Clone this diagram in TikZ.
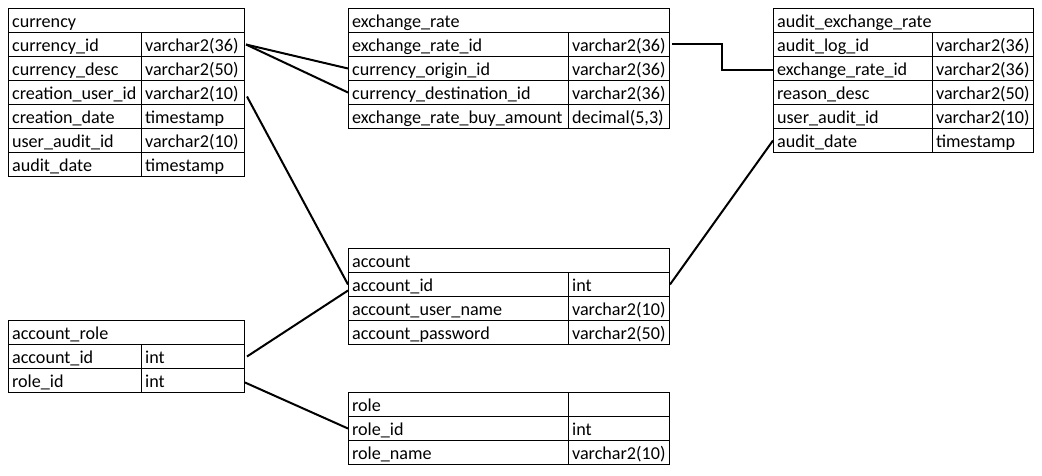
\documentclass[tikz,border=0pt]{standalone}
\usepackage{fontspec}
\setmainfont{Carlito}
\tikzset{
  cellst/.style={draw, line width=0.75pt, anchor=north west, minimum height=18pt,
    inner xsep=2.7pt, inner ysep=0pt, align=left, text height=12.5pt, text depth=2pt,
    font=\fontsize{13.6}{15}\selectfont},
  link/.style={line width=1.5pt, line join=miter}
}
\newcommand\cellbox[5]{\node[cellst, text width=#4*0.75pt-5.4pt] (#1) at (#2,#3) {#5};}
\begin{document}
\begin{tikzpicture}[x=0.75pt, y=-0.75pt]
\fill[white] (0,0) rectangle (1042,475);
\useasboundingbox (0,0) rectangle (1042,475);
% currency
\cellbox{cur0}{8}{8}{236}{currency}
\cellbox{cur1a}{8}{32}{133}{currency\_id}       \cellbox{cur1b}{141}{32}{103}{varchar2(36)}
\cellbox{cur2a}{8}{56}{133}{currency\_desc}     \cellbox{cur2b}{141}{56}{103}{varchar2(50)}
\cellbox{cur3a}{8}{80}{133}{creation\_user\_id} \cellbox{cur3b}{141}{80}{103}{varchar2(10)}
\cellbox{cur4a}{8}{104}{133}{creation\_date}    \cellbox{cur4b}{141}{104}{103}{timestamp}
\cellbox{cur5a}{8}{128}{133}{user\_audit\_id}   \cellbox{cur5b}{141}{128}{103}{varchar2(10)}
\cellbox{cur6a}{8}{152}{133}{audit\_date}       \cellbox{cur6b}{141}{152}{103}{timestamp}
% exchange_rate
\cellbox{ex0}{348}{8}{321}{exchange\_rate}
\cellbox{ex1a}{348}{32}{220}{exchange\_rate\_id}          \cellbox{ex1b}{568}{32}{101}{varchar2(36)}
\cellbox{ex2a}{348}{56}{220}{currency\_origin\_id}        \cellbox{ex2b}{568}{56}{101}{varchar2(36)}
\cellbox{ex3a}{348}{80}{220}{currency\_destination\_id}   \cellbox{ex3b}{568}{80}{101}{varchar2(36)}
\cellbox{ex4a}{348}{104}{220}{exchange\_rate\_buy\_amount} \cellbox{ex4b}{568}{104}{101}{decimal(5,3)}
% audit_exchange_rate
\cellbox{aud0}{773}{8}{260}{audit\_exchange\_rate}
\cellbox{aud1a}{773}{32}{159}{audit\_log\_id}       \cellbox{aud1b}{932}{32}{101}{varchar2(36)}
\cellbox{aud2a}{773}{56}{159}{exchange\_rate\_id}   \cellbox{aud2b}{932}{56}{101}{varchar2(36)}
\cellbox{aud3a}{773}{80}{159}{reason\_desc}         \cellbox{aud3b}{932}{80}{101}{varchar2(50)}
\cellbox{aud4a}{773}{104}{159}{user\_audit\_id}     \cellbox{aud4b}{932}{104}{101}{varchar2(10)}
\cellbox{aud5a}{773}{128}{159}{audit\_date}         \cellbox{aud5b}{932}{128}{101}{timestamp}
% account
\cellbox{acc0}{348}{248}{321}{account}
\cellbox{acc1a}{348}{272}{220}{account\_id}          \cellbox{acc1b}{568}{272}{101}{int}
\cellbox{acc2a}{348}{296}{220}{account\_user\_name}  \cellbox{acc2b}{568}{296}{101}{varchar2(10)}
\cellbox{acc3a}{348}{320}{220}{account\_password}    \cellbox{acc3b}{568}{320}{101}{varchar2(50)}
% account_role
\cellbox{ar0}{8}{320}{236}{account\_role}
\cellbox{ar1a}{8}{344}{133}{account\_id} \cellbox{ar1b}{141}{344}{103}{int}
\cellbox{ar2a}{8}{368}{133}{role\_id}    \cellbox{ar2b}{141}{368}{103}{int}
% role
\cellbox{role0a}{348}{392}{220}{role}       \cellbox{role0b}{568}{392}{101}{}
\cellbox{role1a}{348}{416}{220}{role\_id}   \cellbox{role1b}{568}{416}{101}{int}
\cellbox{role2a}{348}{440}{220}{role\_name} \cellbox{role2b}{568}{440}{101}{varchar2(10)}
% connectors
\draw[link] ([shift={(1,0)}]cur1b.east) -- (ex2a.west);
\draw[link] ([shift={(1,0)}]cur1b.east) -- (ex3a.west);
\draw[link] ([shift={(2,4)}]cur3b.east) -- (acc1a.west);
\draw[link] ([shift={(2,-0.5)}]ex1b.east) -- ++(50,0) |- ([shift={(0,1.5)}]aud2a.west);
\draw[link] (aud5a.west) -- (acc1b.east);
\draw[link] ([shift={(2,0)}]ar1b.east) -- ([shift={(0,6)}]acc1a.west);
\draw[link] ([shift={(0,2)}]ar2b.east) -- (role1a.west);
\end{tikzpicture}
\end{document}
